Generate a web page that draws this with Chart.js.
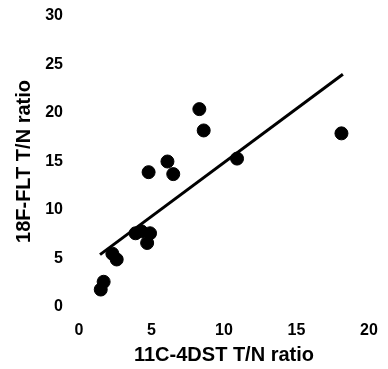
<!DOCTYPE html>
<html>
<head>
<meta charset="utf-8">
<script src="https://cdn.jsdelivr.net/npm/chart.js@4/dist/chart.umd.min.js"></script>
<style>
  html, body { margin: 0; padding: 0; background: #fff; }
  #c { display: block; }
</style>
</head>
<body>
<canvas id="c" width="388" height="369"></canvas>
<script>
const pointsX = [1.5, 1.7, 2.3, 2.6, 3.9, 4.3, 4.9, 4.7, 4.8, 6.1, 6.5, 8.3, 8.6, 10.9, 18.1];
const pointsY = [1.8, 2.6, 5.5, 4.9, 7.6, 7.8, 7.6, 6.6, 13.9, 15.0, 13.7, 20.4, 18.2, 15.3, 17.9];
const fitX = [1.45, 18.2];
const fitY = [5.4, 24.0];
const xTicks = [0, 5, 10, 15, 20];
const yTicks = [0, 5, 10, 15, 20, 25, 30];
const xTitle = '11C-4DST T/N ratio';
const yTitle = '18F-FLT T/N ratio';

const FONT = '"Liberation Sans", Arial, Helvetica, sans-serif';

new Chart(document.getElementById('c'), {
  type: 'scatter',
  data: {
    datasets: [
      {
        data: pointsX.map((x, i) => ({x: x, y: pointsY[i]})),
        backgroundColor: '#000',
        borderColor: '#000',
        pointRadius: 6.5,
        pointHoverRadius: 6.5,
        order: 1
      },
      {
        type: 'line',
        data: fitX.map((x, i) => ({x: x, y: fitY[i]})),
        borderColor: '#000',
        borderWidth: 3,
        pointRadius: 0,
        fill: false,
        order: 2
      }
    ]
  },
  options: {
    responsive: false,
    animation: false,
    events: [],
    layout: { padding: { top: 16, right: 19, left: 0, bottom: 0 } },
    plugins: { legend: { display: false }, tooltip: { enabled: false } },
    scales: {
      x: {
        type: 'linear',
        min: 0, max: 20,
        afterBuildTicks: s => { s.ticks = xTicks.map(v => ({value: v})); },
        afterFit: s => { s.height = 62; s.paddingLeft = 0; s.paddingRight = 0; },
        grid: { display: false, drawTicks: false },
        border: { display: false },
        ticks: { color: '#000', padding: 14, font: { family: FONT, size: 16, weight: 'bold' } },
        title: { display: true, text: xTitle, color: '#000', padding: { top: 0, bottom: 2 }, font: { family: FONT, size: 20, weight: 'bold' } }
      },
      y: {
        type: 'linear',
        min: 0, max: 30,
        afterBuildTicks: s => { s.ticks = yTicks.map(v => ({value: v})); },
        afterFit: s => { s.width = 79; s.paddingTop = 0; s.paddingBottom = 0; },
        grid: { display: false, drawTicks: false },
        border: { display: false },
        ticks: { color: '#000', padding: 16, font: { family: FONT, size: 16, weight: 'bold' } },
        title: { display: true, text: yTitle, color: '#000', padding: { top: 12, bottom: 0 }, font: { family: FONT, size: 20, weight: 'bold' } }
      }
    }
  }
});
</script>
</body>
</html>
